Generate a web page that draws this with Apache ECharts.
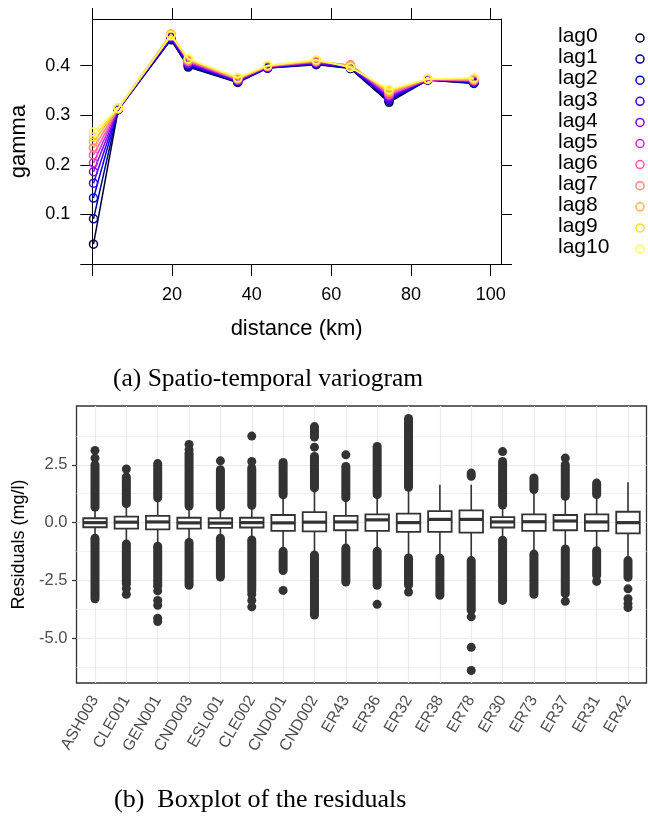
<!DOCTYPE html>
<html><head><meta charset="utf-8">
<script src="https://cdn.jsdelivr.net/npm/echarts@6/dist/echarts.min.js"></script>
<style>html,body{margin:0;padding:0;background:#fff}#c{width:648px;height:829px}</style>
</head><body><div id="c"></div>
<script>
// ---------- (a) spatio-temporal variogram ----------
const distances = [0.3, 6.5, 19.75, 24.1, 36.5, 44.0, 56.2, 64.8, 74.5, 84.2, 95.8];
const lagNames = ['lag0','lag1','lag2','lag3','lag4','lag5','lag6','lag7','lag8','lag9','lag10'];
const lagColors = ['#000033','#00008F','#0000EB','#3800FF','#8000FF','#C729D6','#FF57A8','#FF857A','#FFB34D','#FFE01F','#FFFF60'];
const gammaLag0  = [0.040, 0.311, 0.452, 0.397, 0.366, 0.395, 0.402, 0.394, 0.326, 0.371, 0.364];
const gammaLag1  = [0.091, 0.311, 0.454, 0.399, 0.367, 0.395, 0.403, 0.395, 0.329, 0.371, 0.365];
const gammaLag2  = [0.133, 0.312, 0.455, 0.401, 0.368, 0.396, 0.404, 0.396, 0.332, 0.371, 0.366];
const gammaLag3  = [0.163, 0.312, 0.457, 0.403, 0.369, 0.396, 0.405, 0.397, 0.334, 0.372, 0.367];
const gammaLag4  = [0.186, 0.312, 0.458, 0.405, 0.370, 0.397, 0.406, 0.398, 0.337, 0.372, 0.368];
const gammaLag5  = [0.204, 0.313, 0.460, 0.407, 0.371, 0.398, 0.407, 0.400, 0.340, 0.372, 0.369];
const gammaLag6  = [0.220, 0.313, 0.461, 0.409, 0.372, 0.398, 0.408, 0.401, 0.342, 0.372, 0.370];
const gammaLag7  = [0.234, 0.313, 0.463, 0.410, 0.373, 0.399, 0.409, 0.401, 0.345, 0.373, 0.371];
const gammaLag8  = [0.246, 0.314, 0.464, 0.412, 0.374, 0.399, 0.410, 0.399, 0.347, 0.373, 0.372];
const gammaLag9  = [0.256, 0.314, 0.462, 0.413, 0.375, 0.400, 0.411, 0.397, 0.350, 0.373, 0.374];
const gammaLag10 = [0.266, 0.314, 0.460, 0.414, 0.376, 0.400, 0.412, 0.396, 0.352, 0.373, 0.375];
const gammaByLag = [gammaLag0, gammaLag1, gammaLag2, gammaLag3, gammaLag4, gammaLag5,
                    gammaLag6, gammaLag7, gammaLag8, gammaLag9, gammaLag10];
const distTicks = [0, 20, 40, 60, 80, 100];
const distTickLabels = [20, 40, 60, 80, 100];
const gammaTicks = [0, 0.1, 0.2, 0.3, 0.4];
const gammaTickLabels = [0.1, 0.2, 0.3, 0.4];

// ---------- (b) boxplot of residuals ----------
const stations = ['ASH003','CLE001','GEN001','CND003','ESL001','CLE002','CND001','CND002','ER43',
                  'ER36','ER32','ER38','ER78','ER30','ER73','ER37','ER31','ER42'];
const whiskerLow  = [-0.61,-0.86,-0.96,-0.80,-0.61,-0.67,-1.20,-1.36,-1.05,-1.20,-1.50,-1.50,-1.57,-0.67,-1.29,-1.07,-1.14,-1.57];
const boxQ1       = [-0.20,-0.26,-0.29,-0.26,-0.23,-0.21,-0.36,-0.38,-0.33,-0.36,-0.40,-0.40,-0.43,-0.21,-0.36,-0.33,-0.36,-0.46];
const boxMedian   = [ 0.00, 0.02, 0.03,-0.01,-0.02, 0.00,-0.01, 0.02, 0.03, 0.12, 0.00, 0.14, 0.14, 0.03, 0.04, 0.07, 0.03, 0.00];
const boxQ3       = [ 0.19, 0.26, 0.29, 0.21, 0.19, 0.21, 0.33, 0.45, 0.29, 0.36, 0.39, 0.50, 0.53, 0.24, 0.36, 0.33, 0.36, 0.47];
const whiskerHigh = [ 0.61, 0.78, 1.00, 0.67, 0.61, 0.67, 1.14, 1.43, 1.02, 1.14, 1.43, 1.64, 1.64, 0.72, 1.36, 1.07, 1.14, 1.74];
// dense runs of outliers: [station index, low, high]
const outlierRuns = [
  [0, 0.67, 2.50], [0, -3.29, -0.67],
  [1, 0.82, 1.97], [1, -2.65, -0.92],
  [2, 1.07, 2.55], [2, -2.75, -1.02],
  [3, 0.72, 3.00], [3, -2.71, -0.86],
  [4, 0.67, 2.29], [4, -2.35, -0.67],
  [5, 0.75, 2.36], [5, -2.95, -0.75],
  [6, 1.20, 2.60], [6, -2.07, -1.24],
  [7, 1.50, 2.86], [7, 3.70, 4.15], [7, -3.99, -1.40],
  [8, 1.08, 2.43], [8, -2.57, -1.10],
  [9, 1.21, 3.29], [9, -2.71, -1.24],
  [10, 1.53, 4.50], [10, -2.70, -1.53],
  [11, -3.14, -1.54],
  [12, 2.00, 2.14], [12, -3.79, -1.64],
  [13, 0.76, 2.64], [13, -3.36, -0.76],
  [14, 1.43, 1.93], [14, -3.10, -1.36],
  [15, 1.14, 2.50], [15, -3.07, -1.14],
  [16, 1.21, 1.71], [16, -2.28, -1.21],
  [17, -2.36, -1.64]
];
// isolated outliers: [station index, value]
const outlierPoints = [
  [0, 2.79], [0, 3.12],
  [1, 2.32], [1, -2.85], [1, -3.10],
  [2, -2.95], [2, -3.36], [2, -3.57], [2, -4.13], [2, -4.27],
  [3, 3.15], [3, 3.38],
  [4, 2.67],
  [5, 2.64], [5, 3.74], [5, -3.10], [5, -3.36], [5, -3.64],
  [6, -2.93],
  [7, 3.26],
  [8, 2.93],
  [9, -3.53],
  [10, -3.00],
  [12, -4.07], [12, -5.39], [12, -6.39],
  [13, 3.07],
  [15, 2.79], [15, -3.40],
  [16, -2.54],
  [17, -2.86], [17, -3.29], [17, -3.50], [17, -3.67]
];
const resTicks = [-5, -2.5, 0, 2.5];
const resMinorTicks = [-6.25, -3.75, -1.25, 1.25, 3.75];

// ---------- build ----------
const SANS = 'Liberation Sans, Arial, Helvetica, sans-serif';
const SERIF = 'Liberation Serif, Times New Roman, serif';
const chart = echarts.init(document.getElementById('c'), null, {renderer: 'canvas'});

const RES_MIN = -6.93, RES_MAX = 5.04;

const lineSeries = gammaByLag.map((vals, k) => ({
  type: 'line', name: lagNames[k], xAxisIndex: 0, yAxisIndex: 0,
  data: distances.map((d, j) => [d, vals[j]]),
  symbol: 'circle', symbolSize: 8, showSymbol: true,
  lineStyle: {color: lagColors[k], width: 1.5},
  itemStyle: {color: 'rgba(255,255,255,0)', borderColor: lagColors[k], borderWidth: 1.5},
  z: 3 + k, animation: false
}));

const boxData = stations.map((s, i) => [i, whiskerLow[i], boxQ1[i], boxMedian[i], boxQ3[i], whiskerHigh[i]]);

const legendGraphics = [];
lagNames.forEach((n, k) => {
  const y = 38 + 21.1 * k;
  legendGraphics.push({type: 'text', left: 558, top: y - 12,
    style: {text: n, font: '21px ' + SANS, fill: '#000'}});
  legendGraphics.push({type: 'circle', shape: {cx: 640, cy: y, r: 4},
    style: {fill: 'none', stroke: lagColors[k], lineWidth: 1.5}});
});

const axLine = {show: true, onZero: false, lineStyle: {color: '#000', width: 1}};

const option = {
  animation: false,
  backgroundColor: '#fff',
  textStyle: {fontFamily: SANS},
  grid: [
    {left: 92.3, right: 147, top: 19, bottom: 565, outerBoundsMode: 'none', containLabel: false},
    {left: 76.5, right: 1.5, top: 406, bottom: 146, show: true, borderColor: '#333', borderWidth: 1.3,
     backgroundColor: '#fff', outerBoundsMode: 'none', containLabel: false},
    {left: 95, right: 20, top: 406, bottom: 146, outerBoundsMode: 'none', containLabel: false}
  ],
  xAxis: [
    {type: 'value', gridIndex: 0, min: 0, max: 102.6, position: 'bottom',
     name: 'distance (km)', nameLocation: 'middle', nameGap: 54,
     nameTextStyle: {fontSize: 22, color: '#000', fontFamily: SANS},
     axisLine: axLine,
     axisTick: {show: true, length: 12, inside: false, customValues: distTicks, lineStyle: {color: '#000', width: 1}},
     axisLabel: {show: true, customValues: distTickLabels, fontSize: 18, color: '#000', margin: 22, fontFamily: SANS},
     splitLine: {show: false}},
    {type: 'value', gridIndex: 0, min: 0, max: 102.6, position: 'top',
     axisLine: axLine,
     axisTick: {show: true, length: 11, customValues: distTicks, lineStyle: {color: '#000', width: 1}},
     axisLabel: {show: false}, splitLine: {show: false}},
    {type: 'value', gridIndex: 1, min: 0, max: 1, show: false},
    {type: 'category', gridIndex: 2, data: stations, boundaryGap: false,
     axisLine: {show: false},
     axisTick: {show: true, length: 4.5, lineStyle: {color: '#333', width: 1.2}},
     axisLabel: {show: true, interval: 0, rotate: 60, fontSize: 16, color: '#4D4D4D', margin: 14, fontFamily: SANS},
     splitLine: {show: true, lineStyle: {color: '#EBEBEB', width: 1.2}}}
  ],
  yAxis: [
    {type: 'value', gridIndex: 0, min: 0, max: 0.494, position: 'left',
     name: 'gamma', nameLocation: 'middle', nameGap: 62, nameRotate: 90,
     nameTextStyle: {fontSize: 22, color: '#000', fontFamily: SANS},
     axisLine: axLine,
     axisTick: {show: true, length: 12, customValues: gammaTicks, lineStyle: {color: '#000', width: 1}},
     axisLabel: {show: true, customValues: gammaTickLabels, fontSize: 18, color: '#000', margin: 22, fontFamily: SANS,
                 formatter: v => v.toFixed(1)},
     splitLine: {show: false}},
    {type: 'value', gridIndex: 0, min: 0, max: 0.494, position: 'right',
     axisLine: axLine,
     axisTick: {show: true, length: 11, customValues: gammaTicks, lineStyle: {color: '#000', width: 1}},
     axisLabel: {show: false}, splitLine: {show: false}},
    {type: 'value', gridIndex: 1, min: RES_MIN, max: RES_MAX, position: 'left',
     name: 'Residuals (mg/l)', nameLocation: 'middle', nameGap: 48, nameRotate: 90,
     nameTextStyle: {fontSize: 18, color: '#000', fontFamily: SANS},
     axisLine: {show: false},
     axisTick: {show: true, length: 4.5, customValues: resTicks, lineStyle: {color: '#333', width: 1.2}},
     axisLabel: {show: true, customValues: resTicks, fontSize: 16.5, color: '#4D4D4D', margin: 9, fontFamily: SANS,
                 formatter: v => v.toFixed(1)},
     splitLine: {show: true, lineStyle: {color: '#EBEBEB', width: 1.2}}},
    {type: 'value', gridIndex: 1, min: RES_MIN, max: RES_MAX, position: 'left',
     axisLine: {show: false},
     axisTick: {show: false, customValues: resMinorTicks},
     axisLabel: {show: false},
     splitLine: {show: true, lineStyle: {color: '#EDEDED', width: 0.8}}},
    {type: 'value', gridIndex: 2, min: RES_MIN, max: RES_MAX, show: false}
  ],
  graphic: legendGraphics.concat([
    {type: 'text', top: 366, left: 113, style: {text: '(a) Spatio-temporal variogram', font: '25.5px ' + SERIF, fill: '#000'}},
    {type: 'text', top: 787, left: 114, style: {text: '(b)  Boxplot of the residuals', font: '26px ' + SERIF, fill: '#000'}}
  ]),
  series: lineSeries.concat([
    {type: 'custom', name: 'box', xAxisIndex: 3, yAxisIndex: 4, data: boxData,
     encode: {x: 0, y: [1, 2, 3, 4, 5]}, z: 5, clip: false,
     renderItem: function (params, api) {
       const i = api.value(0);
       const cx = api.coord([i, 0])[0];
       const w = api.size([1, 0])[0] * 0.75;
       const yWl = api.coord([i, api.value(1)])[1];
       const yQ1 = api.coord([i, api.value(2)])[1];
       const yMd = api.coord([i, api.value(3)])[1];
       const yQ3 = api.coord([i, api.value(4)])[1];
       const yWh = api.coord([i, api.value(5)])[1];
       const st = {stroke: '#333', lineWidth: 1.6, fill: null};
       return {type: 'group', children: [
         {type: 'line', shape: {x1: cx, y1: yQ3, x2: cx, y2: yWh}, style: st},
         {type: 'line', shape: {x1: cx, y1: yQ1, x2: cx, y2: yWl}, style: st},
         {type: 'rect', shape: {x: cx - w / 2, y: yQ3, width: w, height: yQ1 - yQ3},
          style: {fill: '#fff', stroke: '#333', lineWidth: 1.8}},
         {type: 'line', shape: {x1: cx - w / 2, y1: yMd, x2: cx + w / 2, y2: yMd},
          style: {stroke: '#333', lineWidth: 3.2}}
       ]};
     }},
    {type: 'custom', name: 'outlierRuns', xAxisIndex: 3, yAxisIndex: 4, data: outlierRuns,
     encode: {x: 0, y: [1, 2]}, z: 4, clip: false,
     renderItem: function (params, api) {
       const i = api.value(0);
       const cx = api.coord([i, 0])[0];
       const yLo = api.coord([i, api.value(1)])[1];
       const yHi = api.coord([i, api.value(2)])[1];
       const r = 4.5;
       return {type: 'rect', shape: {x: cx - r, y: yHi - r, width: 2 * r, height: (yLo - yHi) + 2 * r, r: r},
               style: {fill: '#333'}};
     }},
    {type: 'scatter', name: 'outliers', xAxisIndex: 3, yAxisIndex: 4, data: outlierPoints,
     symbol: 'circle', symbolSize: 9, itemStyle: {color: '#333', opacity: 1}, z: 4}
  ])
};
chart.setOption(option);
</script>
</body></html>
